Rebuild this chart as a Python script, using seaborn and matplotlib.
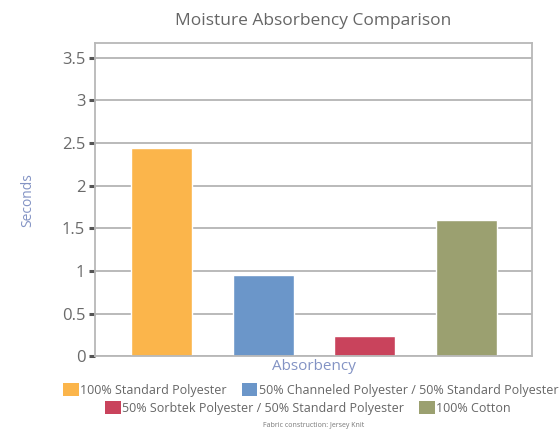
import matplotlib
matplotlib.use("Agg")
import matplotlib.pyplot as plt
import matplotlib.patches as mpatches
import seaborn as sns
import pandas as pd

# Fabric data: time (seconds) for each fabric to absorb moisture
fabrics = [
    "100% Standard Polyester",
    "50% Channeled Polyester / 50% Standard Polyester",
    "50% Sorbtek Polyester / 50% Standard Polyester",
    "100% Cotton",
]
seconds = [2.44, 0.95, 0.24, 1.60]
colors = ["#FBB54B", "#6B96C9", "#C9435C", "#9BA070"]
yticks = [0, 0.5, 1, 1.5, 2, 2.5, 3, 3.5]
ytick_labels = ["0", "0.5", "1", "1.5", "2", "2.5", "3", "3.5"]

sns.set_theme(style="white")
plt.rcParams["font.family"] = ["Open Sans", "DejaVu Sans"]

df = pd.DataFrame({"fabric": fabrics, "seconds": seconds})

fig = plt.figure(figsize=(5.6, 4.46), dpi=100)
ax = fig.add_axes([0.1696, 0.2007, 0.7804, 0.7023])

sns.barplot(data=df, x="fabric", y="seconds", hue="fabric",
            palette=colors, width=0.6, legend=False, ax=ax,
            saturation=1, order=fabrics, hue_order=fabrics)

ax.set_xlim(-0.66, 3.65)
ax.set_ylim(0, 3.67)
ax.set_yticks(yticks)
ax.set_yticklabels(ytick_labels, color="#6a6a6a", fontsize=12)
ax.set_xticks([])
ax.grid(axis="y", color="#b4b4b4", linewidth=1.3)
ax.set_axisbelow(True)
for s in ax.spines.values():
    s.set_visible(True)
    s.set_color("#b8b8b8")
    s.set_linewidth(1.3)
ax.tick_params(axis="y", left=True, length=4, width=2.2, color="#555555", pad=3)

ax.set_title("Moisture Absorbency Comparison", color="#666666", fontsize=12.5, pad=13)
ax.set_ylabel("Seconds", color="#8393c4", fontsize=10, labelpad=19)
ax.set_xlabel("Absorbency", color="#8393c4", fontsize=11, labelpad=2)

handles = [mpatches.Patch(facecolor=c, edgecolor="none", label=f) for f, c in zip(fabrics, colors)]
leg_kw = dict(ncol=2, frameon=False, fontsize=9, handlelength=1.25, handleheight=1.25,
              handletextpad=0.1, columnspacing=1.2, borderaxespad=0, labelcolor="#666666")
leg1 = fig.legend(handles=handles[:2], loc="center", bbox_to_anchor=(0.555, 0.126), **leg_kw)
leg2 = fig.legend(handles=handles[2:], loc="center", bbox_to_anchor=(0.55, 0.085), **leg_kw)

fig.text(0.56, 0.047, "Fabric construction: Jersey Knit", ha="center", va="center",
         fontsize=5, color="#777777")

fig.savefig("out.png", dpi=100)
